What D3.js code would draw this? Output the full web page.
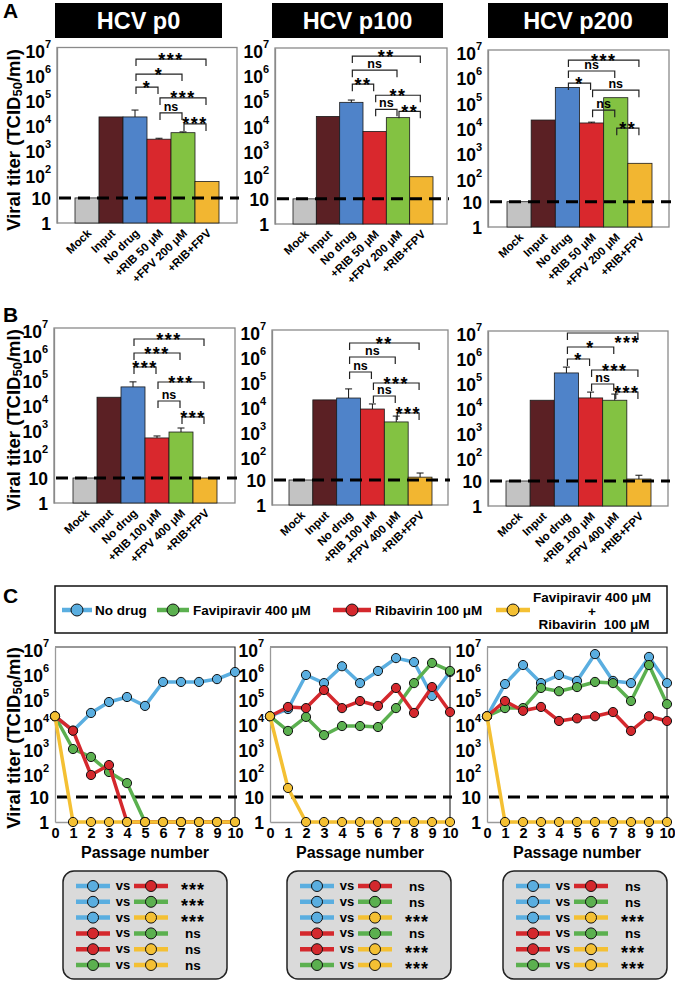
<!DOCTYPE html>
<html><head><meta charset="utf-8">
<script src="https://cdn.jsdelivr.net/npm/d3@7"></script>
<style>
body{margin:0;background:#fff}
svg{display:block;font-family:"Liberation Sans",Arial,Helvetica,sans-serif;font-weight:bold}
</style>
</head><body>
<svg id="c" width="675" height="982"></svg>
<script>
// ---------------- DATA ----------------
const panelTitles = ["HCV p0", "HCV p100", "HCV p200"];
const catsA = ["Mock", "Input", "No drug", "+RIB 50 μM", "+FPV 200 μM", "+RIB+FPV"];
const catsB = ["Mock", "Input", "No drug", "+RIB 100 μM", "+FPV 400 μM", "+RIB+FPV"];
const yTickValues = [1, 10, 1e2, 1e3, 1e4, 1e5, 1e6, 1e7];
const detectionLimit = 10;

// Panel A (bars: mean titer, err: upper end of error bar, 0 = none)
const titerA_p0   = [10, 1.7e4, 1.7e4, 2.2e3, 4.0e3, 45];
const errA_p0     = [0, 0, 3.2e4, 2.4e3, 4.3e3, 0];
const titerA_p100 = [10, 1.9e4, 6.9e4, 4.8e3, 1.7e4, 76];
const errA_p100   = [0, 0, 8.5e4, 0, 0, 0];
const titerA_p200 = [10, 1.7e4, 3.3e5, 1.3e4, 1.3e5, 330];
const errA_p200   = [0, 0, 0, 1.4e4, 0, 0];
// Panel B
const titerB_p0   = [10, 1.7e4, 4.4e4, 400, 690, 10];
const errB_p0     = [0, 0, 7.0e4, 480, 1.0e3, 0];
const titerB_p100 = [10, 1.6e4, 1.9e4, 6.9e3, 2.1e3, 13];
const errB_p100   = [0, 0, 4.4e4, 1.1e4, 3.6e3, 19];
const titerB_p200 = [10, 1.7e4, 2.1e5, 2.1e4, 1.7e4, 12];
const errB_p200   = [0, 0, 3.6e5, 3.6e4, 3.0e4, 17];

// significance brackets: [fromBar, toBar, label, log10 level]
const sigA_p0   = [[2,5,"***",6.54],[2,4,"*",5.94],[2,3,"*",5.42],[3,5,"***",4.99],[3,4,"ns",4.39],[4,5,"***",3.95]];
const sigA_p100 = [[2,5,"**",6.68],[2,4,"ns",6.12],[2,3,"**",5.56],[3,5,"**",5.12],[3,4,"ns",4.56],[4,5,"**",4.48]];
const sigA_p200 = [[2,5,"***",6.6],[2,4,"ns",6.17],[2,3,"*",5.69],[3,5,"ns",5.41],[3,4,"ns",4.62],[4,5,"**",3.91]];
const sigB_p0   = [[2,5,"***",6.56],[2,4,"***",6.0],[2,3,"***",5.44],[3,5,"***",4.84],[3,4,"ns",4.08],[4,5,"***",3.44]];
const sigB_p100 = [[2,5,"**",6.48],[2,4,"ns",5.92],[2,3,"ns",5.32],[3,5,"***",4.88],[3,4,"ns",4.36],[4,5,"***",3.68]];
const sigB_p200 = [[2,5,"***",6.92],[2,4,"*",6.36],[2,3,"*",5.88],[3,5,"***",5.44],[3,4,"ns",4.88],[4,5,"***",4.56]];

// Panel C: serial passage
const passages = [0,1,2,3,4,5,6,7,8,9,10];
const seriesNames = ["No drug", "Favipiravir 400 μM", "Ribavirin 100 μM", "Favipiravir 400 μM + Ribavirin 100 μM"];
const C_p0_noDrug = [1.7e4, 4.5e3, 2.3e4, 6.3e4, 1.0e5, 4.4e4, 4.0e5, 4.0e5, 4.0e5, 5.2e5, 1.0e6];
const C_p0_fav    = [1.7e4, 830, 400, 100, 36, 1, 1, 1, 1, 1, 1];
const C_p0_rib    = [1.7e4, 4.5e3, 76, 190, 1, 1, 1, 1, 1, 1, 1];
const C_p0_combo  = [1.7e4, 1, 1, 1, 1, 1, 1, 1, 1, 1, 1];
const C_p100_noDrug = [1.7e4, 3.3e4, 7.6e5, 3.6e5, 1.7e6, 3.6e5, 1.1e6, 3.6e6, 2.5e6, 1.1e5, 1.0e6];
const C_p100_fav    = [1.7e4, 4.4e3, 1.6e4, 3.0e3, 6.9e3, 6.9e3, 6.3e3, 3.6e4, 3.6e5, 2.3e6, 1.1e6];
const C_p100_rib    = [1.7e4, 4.0e4, 3.6e4, 1.9e5, 3.6e4, 6.9e4, 4.4e4, 2.3e5, 2.3e4, 2.5e5, 2.5e4];
const C_p100_combo  = [1.7e4, 23, 1, 1, 1, 1, 1, 1, 1, 1, 1];
const C_p200_noDrug = [1.7e4, 3.3e5, 1.9e6, 3.6e5, 7.6e5, 4.4e5, 5.2e6, 4.4e5, 3.6e5, 4.0e6, 3.6e5];
const C_p200_fav    = [1.7e4, 3.6e4, 3.6e4, 2.3e5, 1.7e5, 2.5e5, 4.0e5, 3.6e5, 6.9e4, 1.9e6, 5.2e4];
const C_p200_rib    = [1.7e4, 6.9e4, 2.8e4, 4.0e4, 1.1e4, 1.4e4, 1.7e4, 2.5e4, 4.4e3, 1.7e4, 1.1e4];
const C_p200_combo  = [1.7e4, 1, 1, 1, 1, 1, 1, 1, 1, 1, 1];

// statistics boxes: [seriesA, seriesB, result]  (0 noDrug, 1 fav, 2 rib, 3 combo)
const stats_p0   = [[0,2,"***"],[0,1,"***"],[0,3,"***"],[2,1,"ns"],[2,3,"ns"],[1,3,"ns"]];
const stats_p100 = [[0,2,"ns"],[0,1,"ns"],[0,3,"***"],[2,1,"ns"],[2,3,"***"],[1,3,"***"]];
const stats_p200 = [[0,2,"ns"],[0,1,"ns"],[0,3,"***"],[2,1,"ns"],[2,3,"***"],[1,3,"***"]];

// ---------------- STYLE ----------------
const barColors = ["#c3c3c3", "#5b2024", "#4f83c9", "#d9282d", "#83c242", "#f2b631"];
const lineColors = ["#5aaee0", "#5bb04f", "#d4282d", "#f4c033"];

const svg = d3.select("#c");

function yAxisLabels(sel) {
  sel.attr("font-size", null).attr("font-family", null);
  sel.selectAll(".tick text").each(function(d) {
    const t = d3.select(this);
    const e = Math.round(Math.log10(d));
    t.attr("fill", "#000").attr("font-size", 17.5).attr("font-weight", "bold").text(null);
    if (e <= 1) {
      t.attr("dy", "0.36em").text(String(d));
    } else {
      t.attr("dy", "0.55em");
      t.append("tspan").text("10");
      t.append("tspan").attr("font-size", 11).attr("dy", -10).text(e);
    }
  });
}

function yTitle(cx, cy) {
  const t = svg.append("text").attr("transform", `translate(${cx},${cy}) rotate(-90)`)
    .attr("text-anchor", "middle").attr("font-size", 18.5).attr("font-weight", "bold");
  t.append("tspan").text("Viral titer (TCID");
  t.append("tspan").attr("font-size", 13).attr("dy", 2).text("50");
  t.append("tspan").attr("dy", -2).text("/ml)");
}

function sigLabel(g, x, y, label) {
  if (label.indexOf("*") >= 0) {
    g.append("text").attr("x", x).attr("y", y + 6.5).attr("text-anchor", "middle")
      .attr("font-size", 18).attr("letter-spacing", 1.5).text(label);
  } else {
    g.append("text").attr("x", x).attr("y", y - 2).attr("text-anchor", "middle")
      .attr("font-size", 12.5).text(label);
  }
}

function barPanel(P, cats, vals, errs, sigs) {
  const g = svg.append("g");
  const y = d3.scaleLog().domain([1, 1e7]).range([P.y1, P.y0]);
  const x = d3.scaleBand().domain(cats).range([P.bx0, P.bx1]).padding(0);
  g.append("rect").attr("x", P.x0).attr("y", P.y0).attr("width", P.x1 - P.x0).attr("height", P.y1 - P.y0)
    .attr("fill", "none").attr("stroke", "#8a8a8a").attr("stroke-width", 1.3);
  const ay = g.append("g").attr("transform", `translate(${P.x0},0)`)
    .call(d3.axisLeft(y).tickValues(yTickValues).tickSize(0).tickPadding(6));
  ay.select(".domain").attr("stroke", "#8a8a8a").attr("stroke-width", 1.3);
  yAxisLabels(ay);
  g.selectAll("rect.bar").data(vals).join("rect").attr("class", "bar")
    .attr("x", (d, i) => x(cats[i])).attr("width", x.bandwidth())
    .attr("y", d => y(d)).attr("height", d => P.y1 - y(d))
    .attr("fill", (d, i) => barColors[i]).attr("stroke", "#1a1a1a").attr("stroke-width", 0.8);
  errs.forEach((e, i) => {
    if (!e) return;
    const cx = x(cats[i]) + x.bandwidth() / 2;
    g.append("line").attr("x1", cx).attr("x2", cx).attr("y1", y(vals[i])).attr("y2", y(e)).attr("stroke", "#111").attr("stroke-width", 1);
    g.append("line").attr("x1", cx - 3.5).attr("x2", cx + 3.5).attr("y1", y(e)).attr("y2", y(e)).attr("stroke", "#111").attr("stroke-width", 1);
  });
  const ax = g.append("g").attr("transform", `translate(0,${P.y1})`)
    .call(d3.axisBottom(x).tickSize(0).tickPadding(0));
  ax.select(".domain").remove();
  ax.attr("font-size", null).attr("font-family", null);
  ax.selectAll(".tick text").attr("fill", "#000").attr("font-size", 11.5).attr("font-weight", "bold")
    .attr("y", 0).attr("dy", 0).attr("text-anchor", "end")
    .attr("transform", "translate(5,11) rotate(-44)");
  g.append("line").attr("x1", P.x0 + 2).attr("x2", P.x1 + 2).attr("y1", y(detectionLimit)).attr("y2", y(detectionLimit))
    .attr("stroke", "#000").attr("stroke-width", 3).attr("stroke-dasharray", "12,7");
  sigs.forEach(s => {
    const xa = x(cats[s[0]]) + x.bandwidth() / 2 + 1;
    const xb = x(cats[s[1]]) + x.bandwidth() / 2 - 1;
    const yy = y(Math.pow(10, s[3]));
    g.append("path").attr("d", `M${xa},${yy + 7}V${yy}H${xb}V${yy + 7}`)
      .attr("fill", "none").attr("stroke", "#222").attr("stroke-width", 1.2);
    const lx = (s[3] > 6.8) ? xa + (xb - xa) * 0.85 : (xa + xb) / 2;
    const ly = (s[3] > 6.8) ? yy + 9 : yy;
    sigLabel(g, lx, ly, s[2]);
  });
}

function titleBox(b, text) {
  svg.append("rect").attr("x", b.x).attr("y", 3).attr("width", b.w).attr("height", 35).attr("fill", "#000");
  svg.append("text").attr("x", b.x + b.w / 2).attr("y", 29).attr("text-anchor", "middle")
    .attr("fill", "#fff").attr("font-size", 23.5).attr("font-weight", "bold").text(text);
}

function linePanel(P, series) {
  const g = svg.append("g");
  const x = d3.scaleLinear().domain([0, 10]).range([P.x0, P.x1]);
  const y = d3.scaleLog().domain([1, 1e7]).range([P.y1, P.y0]);
  g.append("path").attr("d", `M${P.x0},${P.y0}H${P.x1}V${P.y1}`).attr("fill", "none").attr("stroke", "#333").attr("stroke-width", 1.2);
  const ay = g.append("g").attr("transform", `translate(${P.x0},0)`)
    .call(d3.axisLeft(y).tickValues(yTickValues).tickSize(0).tickPadding(6));
  ay.select(".domain").attr("stroke", "#9a9a9a").attr("stroke-width", 1.3);
  yAxisLabels(ay);
  const ax = g.append("g").attr("transform", `translate(0,${P.y1})`)
    .call(d3.axisBottom(x).tickValues(passages).tickSize(0).tickPadding(6).tickFormat(d3.format("d")));
  ax.select(".domain").attr("stroke", "#9a9a9a").attr("stroke-width", 1.3);
  ax.attr("font-size", null).attr("font-family", null);
  ax.selectAll(".tick text").attr("fill", "#000").attr("font-size", 14.5).attr("font-weight", "bold");
  g.append("text").attr("x", (P.x0 + P.x1) / 2).attr("y", P.y1 + 36).attr("text-anchor", "middle")
    .attr("font-size", 16).attr("font-weight", "bold").text("Passage number");
  g.append("line").attr("x1", P.x0 + 2).attr("x2", P.x1 + 2).attr("y1", y(detectionLimit)).attr("y2", y(detectionLimit))
    .attr("stroke", "#000").attr("stroke-width", 3).attr("stroke-dasharray", "12,7");
  const line = d3.line().x((d, i) => x(passages[i])).y(d => y(d));
  series.forEach((vals, k) => {
    g.append("path").attr("d", line(vals)).attr("fill", "none").attr("stroke", lineColors[k])
      .attr("stroke-width", 3.5).attr("stroke-linejoin", "round");
    g.selectAll(null).data(vals).join("circle").attr("cx", (d, i) => x(passages[i])).attr("cy", d => y(d))
      .attr("r", 4.6).attr("fill", lineColors[k]).attr("stroke", "#111").attr("stroke-width", 1);
  });
}

function marker(x, y, k, half, r) {
  svg.append("line").attr("x1", x - half).attr("x2", x + half).attr("y1", y).attr("y2", y)
    .attr("stroke", lineColors[k]).attr("stroke-width", 4.5);
  svg.append("circle").attr("cx", x).attr("cy", y).attr("r", r).attr("fill", lineColors[k]).attr("stroke", "#111").attr("stroke-width", 1);
}

function statsBox(bx, rows) {
  svg.append("rect").attr("x", bx).attr("y", 871).attr("width", 164).attr("height", 108).attr("rx", 11)
    .attr("fill", "#dadada").attr("stroke", "#222").attr("stroke-width", 1.5);
  rows.forEach((r, i) => {
    const yy = 886 + i * 15.8;
    marker(bx + 30, yy, r[0], 17, 5.5);
    svg.append("text").attr("x", bx + 60).attr("y", yy + 4).attr("text-anchor", "middle").attr("font-size", 13).text("vs");
    marker(bx + 88, yy, r[1], 17, 5.5);
    if (r[2].indexOf("*") >= 0) {
      svg.append("text").attr("x", bx + 130).attr("y", yy + 10).attr("text-anchor", "middle")
        .attr("font-size", 18).attr("letter-spacing", 1).text(r[2]);
    } else {
      svg.append("text").attr("x", bx + 130).attr("y", yy + 5).attr("text-anchor", "middle")
        .attr("font-size", 13.5).text(r[2]);
    }
  });
}

// ---------------- LAYOUT & DRAW ----------------
svg.append("text").attr("x", 3).attr("y", 18).attr("font-size", 21).text("A");
svg.append("text").attr("x", 3).attr("y", 322).attr("font-size", 21).text("B");
svg.append("text").attr("x", 3).attr("y", 603).attr("font-size", 21).text("C");

const boxes = [{x: 55, w: 167}, {x: 272, w: 171}, {x: 488, w: 180}];
panelTitles.forEach((t, i) => titleBox(boxes[i], t));

barPanel({x0: 57, x1: 237, y0: 47.5, y1: 223, bx0: 75, bx1: 219}, catsA, titerA_p0, errA_p0, sigA_p0);
barPanel({x0: 275, x1: 447, y0: 48, y1: 224, bx0: 293, bx1: 433}, catsA, titerA_p100, errA_p100, sigA_p100);
barPanel({x0: 488, x1: 669, y0: 50, y1: 227, bx0: 507, bx1: 652}, catsA, titerA_p200, errA_p200, sigA_p200);
barPanel({x0: 54, x1: 235, y0: 328, y1: 503, bx0: 73, bx1: 217}, catsB, titerB_p0, errB_p0, sigB_p0);
barPanel({x0: 272, x1: 448, y0: 330, y1: 505, bx0: 289, bx1: 432}, catsB, titerB_p100, errB_p100, sigB_p100);
barPanel({x0: 488, x1: 668, y0: 331, y1: 506, bx0: 506, bx1: 651}, catsB, titerB_p200, errB_p200, sigB_p200);

yTitle(20, 140);
yTitle(20, 420);
yTitle(20, 738);

// legend
svg.append("rect").attr("x", 55).attr("y", 586).attr("width", 612).attr("height", 47)
  .attr("fill", "#fff").attr("stroke", "#111").attr("stroke-width", 1.5);
marker(77, 610, 0, 15, 6);
svg.append("text").attr("x", 95).attr("y", 614.5).attr("font-size", 13.5).text(seriesNames[0]);
marker(173, 610, 1, 16, 6);
svg.append("text").attr("x", 193).attr("y", 614.5).attr("font-size", 13.5).text(seriesNames[1]);
marker(352, 610, 2, 19, 6);
svg.append("text").attr("x", 375).attr("y", 614.5).attr("font-size", 13.5).text(seriesNames[2]);
marker(513, 610, 3, 17, 6);
const comboParts = seriesNames[3].split(" + ");
svg.append("text").attr("x", 592).attr("y", 601.5).attr("text-anchor", "middle").attr("font-size", 13.5).text(comboParts[0]);
svg.append("text").attr("x", 592).attr("y", 615.5).attr("text-anchor", "middle").attr("font-size", 13.5).text("+");
svg.append("text").attr("x", 594).attr("y", 628.5).attr("text-anchor", "middle").attr("font-size", 13.5).attr("xml:space", "preserve").text(comboParts[1].replace(" ", "  "));

linePanel({x0: 55, x1: 235, y0: 647, y1: 822}, [C_p0_noDrug, C_p0_fav, C_p0_rib, C_p0_combo]);
linePanel({x0: 270, x1: 450, y0: 647, y1: 822}, [C_p100_noDrug, C_p100_fav, C_p100_rib, C_p100_combo]);
linePanel({x0: 487, x1: 667, y0: 647, y1: 822}, [C_p200_noDrug, C_p200_fav, C_p200_rib, C_p200_combo]);

statsBox(63, stats_p0);
statsBox(287, stats_p100);
statsBox(503, stats_p200);
</script>
</body></html>
